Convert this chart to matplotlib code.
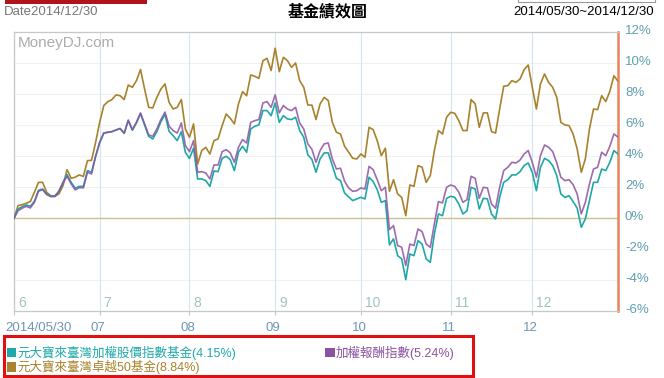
import numpy as np
import pandas as pd
import matplotlib
matplotlib.use("Agg")
import matplotlib.pyplot as plt
from matplotlib.patches import Rectangle
from matplotlib.transforms import ScaledTranslation

plt.rcParams['font.family'] = ['Liberation Sans', 'Noto Sans CJK TC', 'DejaVu Sans']

# trading days 2014/05/30 ~ 2014/12/30 (TWSE holidays removed)
holidays = ['2014-06-02', '2014-07-23', '2014-09-08', '2014-10-10']
dates = pd.bdate_range('2014-05-30', '2014-12-30').drop(pd.to_datetime(holidays))

# cumulative return (%)
fund_tw50 = [
    0, 0.82, 0.88, 0.97, 1.08, 1.68, 2.32, 2.32, 1.68, 1.46,
    1.42, 1.57, 2.1, 3.14, 2.58, 2.65, 2.8, 2.7, 3.72, 3.74,
    4.9, 6.2, 7.27, 7.53, 7.66, 7.96, 7.91, 7.66, 8.6, 8.45,
    8.88, 9.6, 8.34, 7.16, 7.12, 7.8, 8.34, 8.67, 7.48, 7.05,
    7.16, 7.66, 5.76, 5.23, 6.09, 3.5, 4.37, 4.58, 4.15, 5.01,
    5.12, 5.98, 6.73, 6.45, 6.09, 7.38, 8.17, 7.91, 9.25, 9.16,
    9.03, 10.17, 10.32, 9.53, 10.97, 9.46, 10.39, 10.17, 9.74, 10.02,
    8.88, 8.45, 7.31, 7.3, 6.37, 7.38, 7.8, 7.6, 6.2, 5.55,
    5.44, 4.65, 4.26, 3.87, 3.83, 4.15, 3.94, 5.87, 5.72, 5.01,
    4.04, 4.52, 1.74, 2.49, 1.57, 1.35, 0.17, 2.15, 2.06, 3.4,
    3.29, 2.32, 2.75, 4.37, 5.66, 5.44, 6.52, 6.84, 6.77, 6.3,
    5.66, 5.66, 7.66, 7.38, 5.87, 6.8, 6.8, 5.59, 5.5, 7.05,
    8.52, 8.56, 8.88, 8.77, 8.99, 9.59, 9.89, 8.45, 7.05, 8.67,
    9.31, 8.77, 8.45, 7.8, 6.19, 6.02, 5.98, 5.44, 4.47, 2.97,
    3.83, 5.76, 7.05, 7.01, 7.91, 7.53, 8.19, 9.2, 8.84,
]
index_return = [
    0, 0.49, 0.65, 0.77, 0.67, 1.03, 1.74, 1.85, 1.53, 1.4,
    1.4, 1.74, 2.28, 2.71, 2.22, 1.83, 1.98, 1.96, 2.97, 2.86,
    4.0, 4.9, 5.5, 5.55, 5.59, 5.7, 5.8, 5.5, 6.34, 5.72,
    6.2, 6.8, 6.09, 5.38, 5.29, 5.76, 6.37, 6.85, 5.94, 5.66,
    5.5, 6.15, 4.69, 4.3, 5.01, 2.97, 3.01, 2.92, 2.54, 3.44,
    3.44, 4.3, 4.43, 4.22, 3.61, 4.58, 5.08, 4.86, 6.19, 6.3,
    6.37, 7.44, 7.53, 7.16, 7.96, 6.8, 7.27, 7.05, 6.95, 7.16,
    6.15, 5.76, 4.8, 4.45, 3.61, 4.37, 4.8, 4.86, 3.83, 3.18,
    3.23, 2.39, 1.96, 1.74, 1.78, 1.96, 1.89, 3.35, 3.14, 2.49,
    1.78, 2.0, -0.73, -0.47, -1.76, -1.87, -3.05, -1.66, -1.76, -0.69,
    -0.86, -1.66, -1.87, -0.37, 1.08, 0.99, 2.0, 2.15, 2.06, 1.68,
    1.03, 1.2, 2.71, 2.58, 1.29, 2.0, 1.96, 0.92, 0.65, 2.0,
    3.08, 3.29, 3.61, 3.57, 3.76, 4.15, 4.37, 3.61, 2.65, 4.04,
    4.73, 4.58, 4.3, 3.57, 2.65, 2.43, 2.49, 2.17, 1.57, 0.28,
    1.03, 2.22, 3.18, 3.29, 4.26, 4.04, 4.65, 5.44, 5.24,
]
fund_taiex = [
    0, 0.6, 0.75, 0.86, 0.77, 1.1, 1.81, 1.89, 1.57, 1.44,
    1.44, 1.74, 2.32, 2.82, 2.32, 1.94, 2.06, 2.06, 3.08, 2.97,
    4.0, 4.9, 5.5, 5.55, 5.59, 5.7, 5.78, 5.48, 6.3, 5.68,
    6.15, 6.75, 6.02, 5.29, 5.12, 5.59, 6.24, 6.7, 5.61, 5.33,
    5.01, 5.59, 4.24, 3.87, 4.52, 2.54, 2.54, 2.43, 2.06, 3.05,
    3.01, 3.87, 4.0, 3.78, 3.08, 4.26, 4.65, 4.26, 5.76, 5.94,
    6.02, 6.95, 6.95, 6.62, 7.44, 6.19, 6.62, 6.41, 6.37, 6.52,
    5.66, 5.23, 4.09, 3.8, 2.97, 3.83, 4.22, 4.22, 3.4, 2.58,
    2.43, 1.63, 1.38, 1.14, 1.25, 1.35, 1.25, 2.65, 2.37, 1.85,
    1.03, 1.14, -1.72, -1.33, -2.41, -2.62, -3.96, -2.3, -2.41, -1.44,
    -1.66, -2.62, -2.84, -1.01, 0.28, 0.17, 1.29, 1.42, 1.35, 0.92,
    0.28, 0.49, 2.0, 1.89, 0.6, 1.29, 1.25, 0.28, -0.04, 1.35,
    2.32, 2.49, 2.8, 2.8, 3.01, 3.4, 3.57, 2.97, 1.78, 3.29,
    3.87, 3.72, 3.4, 2.75, 1.57, 1.35, 1.46, 1.08, 0.65, -0.58,
    -0.04, 1.14, 2.32, 2.32, 3.18, 3.08, 3.61, 4.37, 4.15,
]

series_names = ['元大寶來臺灣加權股價指數基金(4.15%)', '加權報酬指數(5.24%)',
                '元大寶來臺灣卓越50基金(8.84%)']
month_in = ['6', '7', '8', '9', '10', '11', '12']
month_out = ['2014/05/30', '07', '08', '09', '10', '11', '12']
y_ticks = [-6, -4, -2, 0, 2, 4, 6, 8, 10, 12]

c_taiex = '#1fa8a8'
c_index = '#8c52a2'
c_tw50 = '#a8822c'

W, H = 664, 378


def fx(px):
    return px / W


def fy(py):
    return 1 - py / H


fig = plt.figure(figsize=(W / 100, H / 100), dpi=100)
ax = fig.add_axes([fx(14), fy(311.3), 604 / W, 279 / H])

x = np.arange(len(dates))
month_pos = [0] + [i for i in range(1, len(dates)) if dates[i].month != dates[i - 1].month][1:]

# grid
for v in y_ticks:
    if v != 0:
        ax.axhline(v, color='#f1f1f1', lw=0.8, zorder=0)
ax.axhline(0, color='#cdbf8f', lw=1.0, zorder=1)
for p in month_pos:
    ax.axvline(p, color='#d4e5ee', lw=0.8, zorder=0)

ax.plot(x, fund_tw50, color=c_tw50, lw=1.2, zorder=3)
ax.plot(x, fund_taiex, color=c_taiex, lw=1.2, zorder=4)
ax.plot(x, index_return, color=c_index, lw=1.2, alpha=0.85, zorder=5)

ax.set_xlim(0, len(dates) - 1)
ax.set_ylim(-6, 12)

for s in ['top', 'left', 'bottom']:
    ax.spines[s].set_color('#c8c8c8')
    ax.spines[s].set_linewidth(0.9)
ax.spines['right'].set_color('#e8845e')
ax.spines['right'].set_linewidth(1.8)

ax.set_xticks(month_pos)
ax.set_xticklabels([])
ax.tick_params(axis='x', length=3, color='#c8c8c8')

ax.yaxis.tick_right()
ax.set_yticks(y_ticks)
ax.set_yticklabels([f'{v}%' for v in y_ticks])
ax.tick_params(axis='y', length=0, pad=5, labelsize=9.5, labelcolor='#5e9fb0')
for lab in ax.get_yticklabels():
    lab.set_transform(lab.get_transform() + ScaledTranslation(0, 0.03, fig.dpi_scale_trans))

for i, p in enumerate(month_pos):
    ax.annotate(month_in[i], (p, -6), xytext=(4, 1), textcoords='offset pixels',
                ha='left', va='bottom', fontsize=10, color='#a3c2c2')
    if i == 0:
        ax.annotate(month_out[i], (p, -6), xytext=(-9, -17), textcoords='offset pixels',
                    ha='left', va='center', fontsize=9.5, color='#6f95b5',
                    annotation_clip=False)
    else:
        ax.annotate(month_out[i], (p, -6), xytext=(-2, -17), textcoords='offset pixels',
                    ha='center', va='center', fontsize=9.5, color='#6f95b5',
                    annotation_clip=False)

ax.text(0.007, 0.985, 'MoneyDJ.com', transform=ax.transAxes, ha='left', va='top',
        fontsize=11, color='#ababab')

# header
fig.add_artist(Rectangle((fx(5), fy(4)), fx(142), 10 / H, facecolor='#b0141a',
                         edgecolor='none', transform=fig.transFigure))
fig.add_artist(Rectangle((fx(518), fy(2)), fx(137), 10 / H, facecolor='white',
                         edgecolor='#9a9a9a', lw=0.8, transform=fig.transFigure))
fig.text(fx(4), fy(12), 'Date2014/12/30', ha='left', va='center', fontsize=9.5, color='#777777')
fig.text(fx(328), fy(12), '基金績效圖', ha='center', va='center', fontsize=11.5,
         fontweight='bold', color='black')
fig.text(fx(654), fy(12), '2014/05/30~2014/12/30', ha='right', va='center',
         fontsize=9.5, color='black')

# legend box
fig.add_artist(Rectangle((fx(4), fy(376)), fx(469), 40 / H, facecolor='none',
                         edgecolor='#e01010', lw=2.2, transform=fig.transFigure))
legend_items = [(series_names[0], c_taiex, 7, 352.5),
                (series_names[1], c_index, 325, 352.5),
                (series_names[2], c_tw50, 7, 367)]
for name, col, lx, ly in legend_items:
    fig.add_artist(Rectangle((fx(lx), fy(ly + 4.5)), 9.5 / W, 9.5 / H, facecolor=col,
                             edgecolor='none', transform=fig.transFigure))
    fig.text(fx(lx + 10.5), fy(ly), name, ha='left', va='center', fontsize=9, color=col)

fig.savefig('out.png', dpi=100)
